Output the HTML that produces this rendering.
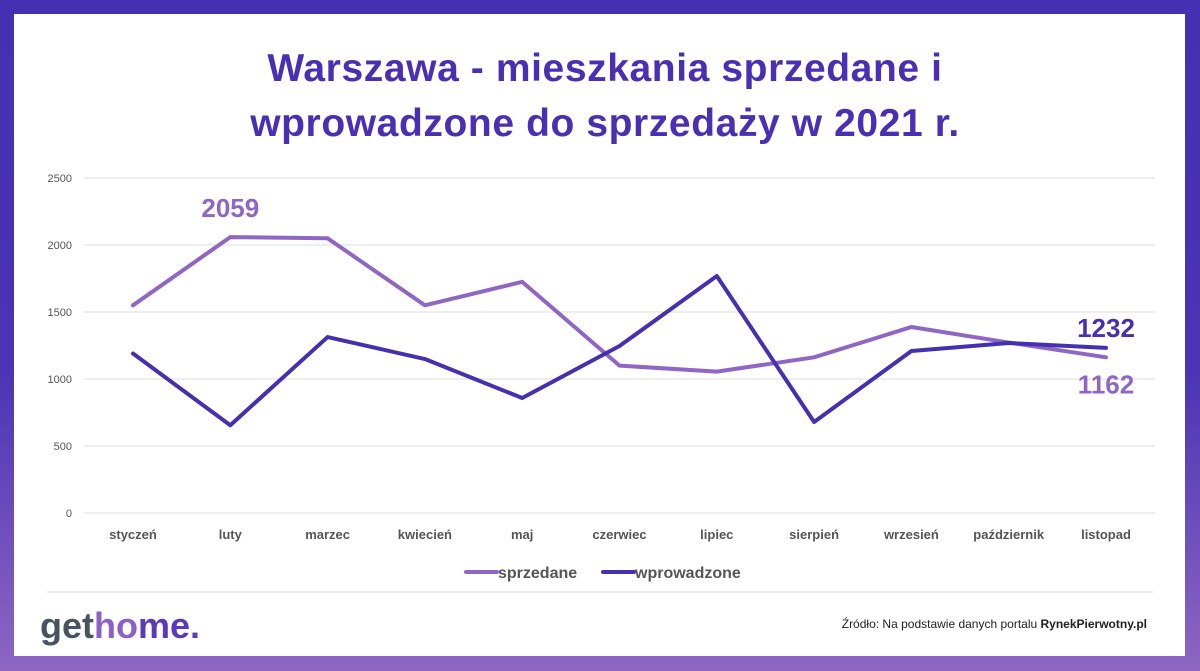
<!DOCTYPE html>
<html><head><meta charset="utf-8"><style>
html,body{margin:0;padding:0}
body{width:1200px;height:671px;position:relative;overflow:hidden;background:linear-gradient(180deg,#4530b2 0%,#4a34b4 55%,#8e66c2 100%);font-family:"Liberation Sans",sans-serif}
#card{position:absolute;left:14px;top:14px;width:1171px;height:642px;background:#fff}
</style></head><body>
<div id="card"></div>
<svg width="1200" height="671" style="position:absolute;left:0;top:0">
<text x="605" y="81" text-anchor="middle" font-size="39" font-weight="bold" letter-spacing="0.6" fill="#4a2fb5">Warszawa - mieszkania sprzedane i</text>
<text x="605" y="136" text-anchor="middle" font-size="39" font-weight="bold" letter-spacing="0.6" fill="#4a2fb5">wprowadzone do sprzedaży w 2021 r.</text>
<g id="grid"></g><g id="lines"></g><g id="xl"></g>
<line x1="466" y1="572" x2="497" y2="572" stroke="#9066c5" stroke-width="4" stroke-linecap="round"/>
<text x="498" y="578" font-size="16" font-weight="bold" fill="#555">sprzedane</text>
<line x1="603" y1="572" x2="634" y2="572" stroke="#4431b0" stroke-width="4" stroke-linecap="round"/>
<text x="635" y="578" font-size="16" font-weight="bold" fill="#555">wprowadzone</text>
<line x1="47" y1="592" x2="1153" y2="592" stroke="#d4d4d4" stroke-width="1"/>
<text x="40" y="638" font-size="36" font-weight="bold"><tspan fill="#455560">get</tspan><tspan fill="#8e5fc4">ho</tspan><tspan fill="#5a3ab8">me.</tspan></text>
<text x="1147" y="628" text-anchor="end" font-size="12" fill="#222">Źródło: Na podstawie danych portalu <tspan font-weight="bold">RynekPierwotny.pl</tspan></text>
</svg>
<script>
const categories=["styczeń","luty","marzec","kwiecień","maj","czerwiec","lipiec","sierpień","wrzesień","październik","listopad"];
const sprzedane=[1550,2059,2050,1550,1725,1100,1055,1162,1388,1272,1162];
const wprowadzone=[1190,655,1313,1149,858,1246,1769,679,1209,1269,1232];
const yTicks=[0,500,1000,1500,2000,2500];
const NS="http://www.w3.org/2000/svg";
const y=v=>513-v*335/2500;
const x=i=>133+i*97.3;
function mk(t,a,p){const e=document.createElementNS(NS,t);for(const k in a)e.setAttribute(k,a[k]);p.appendChild(e);return e;}
const g=document.getElementById('grid');
yTicks.forEach(t=>{
 const l=mk('line',{x1:84,x2:1155,y1:y(t),y2:y(t),stroke:'#dedede','stroke-width':1},g);
 
 
 const tx=mk('text',{x:72,y:y(t)+4,'text-anchor':'end','font-size':11,fill:'#555'},g);
 tx.textContent=t;
 
 
});
const xl=document.getElementById('xl');
categories.forEach((c,i)=>{
 const tx=mk('text',{x:x(i),y:539,'text-anchor':'middle','font-size':13,'font-weight':'bold',fill:'#555'},xl);
 tx.textContent=c;
 
 
});
const lg=document.getElementById('lines');
[[sprzedane,'#9066c5','line-sprzedane'],[wprowadzone,'#4431b0','line-wprowadzone']].forEach(([d,col,n])=>{
 const p=mk('polyline',{points:d.map((v,i)=>x(i)+','+y(v)).join(' '),fill:'none',stroke:col,'stroke-width':4,'stroke-linejoin':'round','stroke-linecap':'round'},lg);
 
 
});
function lab(txt,xx,yy,col,n){const t=mk('text',{x:xx,y:yy,'text-anchor':'middle','font-size':26,'font-weight':'bold',fill:col},lg);t.textContent=txt;
 
 }
lab(sprzedane[1],x(1),y(sprzedane[1])-20,'#9066c5','label-sprzedane-max');
lab(wprowadzone[10],x(10),y(wprowadzone[10])-11,'#4431b0','label-wprowadzone-last');
lab(sprzedane[10],x(10),y(sprzedane[10])+36,'#9066c5','label-sprzedane-last');
</script>
</body></html>
